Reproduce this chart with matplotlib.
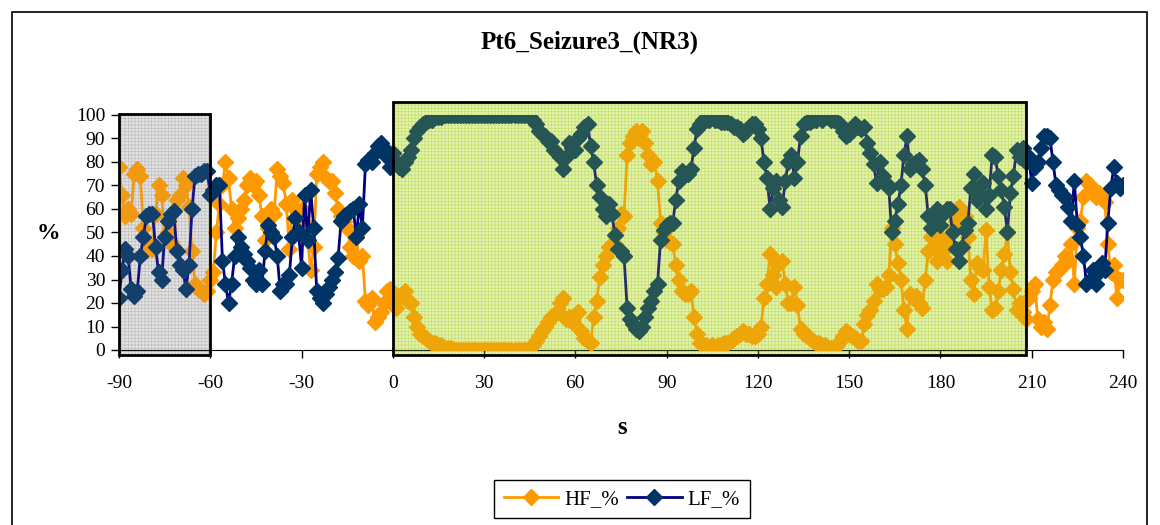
import numpy as np
import matplotlib
matplotlib.use("Agg")
import matplotlib.pyplot as plt
from matplotlib.patches import Rectangle
from matplotlib.colors import to_rgba

plt.rcParams['font.family'] = ['Liberation Serif', 'DejaVu Serif']
plt.rcParams['hatch.linewidth'] = 0.5
plt.rcParams['axes.unicode_minus'] = False

# time axis, one sample per second
t = np.arange(-90, 241)

hf_pct = [
    78, 66, 57, 60, 58, 75, 77, 74, 52, 42,   # -90
    45, 43, 58, 70, 66, 48, 50, 46, 44, 64,   # -80
    66, 73, 70, 61, 42, 28, 26, 25, 24, 25,   # -70
    30, 33, 50, 62, 70, 80, 73, 60, 52, 56,   # -60
    60, 64, 70, 73, 70, 72, 66, 57, 47, 52,   # -50
    60, 58, 77, 74, 71, 62, 43, 64, 60, 52,   # -40
    60, 54, 47, 34, 44, 75, 78, 80, 73, 72,   # -30
    72, 67, 60, 57, 55, 52, 44, 40, 48, 38,   # -20
    40, 21, 19, 22, 12, 14, 16, 20, 25, 26,   # -10
    20, 18, 22, 24, 25, 21, 20, 14, 10, 7,    # 0
    6, 5, 4, 3, 3, 2, 2, 1, 1, 1,             # 10
    0, 0, 0, 0, 0, 0, 0, 0, 0, 0,             # 20
    0, 0, 0, 0, 0, 0, 0, 0, 0, 0,             # 30
    0, 0, 0, 0, 0, 1, 2, 4, 6, 8,             # 40
    10, 12, 14, 15, 16, 20, 22, 13, 14, 12,   # 50
    15, 16, 8, 5, 4, 3, 14, 21, 31, 36,       # 60
    40, 44, 45, 45, 52, 58, 57, 83, 88, 91,   # 70
    93, 90, 93, 88, 83, 79, 80, 72, 54, 50,   # 80
    47, 46, 45, 36, 30, 25, 24, 24, 25, 14,   # 90
    7, 3, 2, 2, 1, 2, 1, 2, 2, 3,             # 100
    3, 4, 5, 6, 7, 8, 7, 7, 6, 6,             # 110
    7, 10, 22, 28, 41, 32, 27, 37, 38, 28,    # 120
    20, 20, 27, 19, 9, 7, 6, 5, 4, 3,         # 130
    3, 2, 2, 1, 1, 1, 2, 4, 6, 8,             # 140
    7, 6, 5, 4, 4, 11, 15, 17, 21, 28,        # 150
    26, 26, 27, 32, 52, 45, 37, 30, 17, 9,    # 160
    24, 22, 23, 20, 18, 30, 42, 48, 44, 38,   # 170
    48, 42, 38, 45, 52, 55, 61, 58, 57, 48,   # 180
    30, 24, 37, 35, 34, 51, 27, 17, 18, 25,   # 190
    34, 41, 50, 33, 26, 17, 20, 16, 13, 22,   # 200
    25, 28, 13, 10, 12, 9, 19, 30, 33, 34,    # 210
    36, 40, 38, 45, 28, 52, 55, 65, 72, 70,   # 220
    68, 65, 67, 65, 63, 45, 33, 36, 22, 30,   # 230
    30,                                       # 240
]

lf_pct = [
    22, 34, 43, 40, 26, 23, 25, 40, 48, 57,   # -90
    58, 58, 44, 33, 30, 48, 55, 58, 59, 42,   # -80
    36, 34, 26, 36, 60, 74, 75, 75, 76, 76,   # -70
    66, 68, 70, 70, 38, 28, 20, 28, 40, 48,   # -60
    44, 41, 38, 35, 30, 28, 34, 28, 42, 53,   # -50
    50, 48, 40, 25, 28, 28, 32, 48, 56, 50,   # -40
    35, 66, 47, 68, 52, 25, 22, 20, 24, 27,   # -30
    30, 33, 39, 55, 57, 58, 59, 60, 48, 62,   # -20
    52, 79, 81, 80, 84, 87, 88, 86, 82, 78,   # -10
    84, 80, 78, 77, 80, 82, 85, 90, 93, 95,   # 0
    96, 97, 98, 98, 99, 99, 99, 100, 100, 100,  # 10
    100, 100, 100, 100, 100, 100, 100, 100, 100, 100,  # 20
    100, 100, 100, 100, 100, 100, 100, 100, 100, 100,  # 30
    100, 100, 100, 100, 100, 99, 98, 96, 93, 92,  # 40
    91, 89, 89, 85, 84, 82, 77, 82, 88, 86,   # 50
    85, 90, 92, 95, 96, 87, 80, 70, 65, 60,   # 60
    57, 62, 58, 49, 43, 42, 40, 18, 13, 11,   # 70
    9, 8, 10, 14, 18, 21, 25, 28, 47, 51,     # 80
    53, 54, 54, 64, 72, 76, 75, 75, 77, 86,   # 90
    94, 96, 98, 98, 98, 99, 98, 98, 97, 97,   # 100
    97, 96, 95, 95, 94, 92, 93, 95, 96, 96,   # 110
    94, 90, 80, 73, 60, 69, 72, 64, 61, 72,   # 120
    80, 83, 73, 80, 91, 96, 97, 97, 98, 98,   # 130
    99, 98, 99, 99, 98, 98, 97, 96, 93, 91,   # 140
    92, 94, 96, 95, 94, 95, 88, 84, 79, 71,   # 150
    80, 74, 71, 69, 50, 55, 62, 70, 83, 91,   # 160
    77, 79, 80, 81, 77, 70, 57, 52, 56, 60,   # 170
    53, 58, 60, 60, 50, 43, 38, 44, 51, 54,   # 180
    69, 75, 64, 66, 71, 60, 66, 83, 82, 74,   # 190
    68, 61, 50, 67, 74, 85, 82, 86, 80, 82,   # 200
    71, 78, 80, 86, 91, 91, 90, 80, 70, 68,   # 210
    66, 65, 61, 55, 72, 53, 48, 40, 28, 30,   # 220
    34, 28, 33, 37, 34, 54, 69, 78, 71, 69,   # 230
    70,                                       # 240
]

# shaded windows in seconds
pre_window = (-90, -60)
seizure_window = (0, 208)

x_ticks = list(range(-90, 241, 30))
y_ticks = list(range(0, 101, 10))

W, H = 1160, 525
fig = plt.figure(figsize=(W / 100, H / 100), dpi=100)
ax = fig.add_axes([119 / W, 1 - 350 / H, (1123 - 119) / W, (350 - 115) / H])

ax.plot(t, hf_pct, color='#FF9900', lw=2, marker='D', ms=8,
        mfc='#FF9900', mec='#FF9900', label='HF_%', zorder=3)
ax.plot(t, lf_pct, color='#000080', lw=2, marker='D', ms=8,
        mfc='#003366', mec='#003366', label='LF_%', zorder=3)

# pre-ictal window (grey) and seizure window (green):
# gridded background under the traces, light tint over them, black frame
boxes = [
    (pre_window, 100.4, '#eeeeee', '#c4c4c4', to_rgba('#9a9a9a', 0.12)),
    (seizure_window, 105.5, '#f4fbd8', '#c9e580', to_rgba('#b0d020', 0.22)),
]
for (x0, x1), top, bg, grid_col, tint in boxes:
    ax.add_patch(Rectangle((x0, -2), x1 - x0, top + 2, facecolor=bg,
                           edgecolor=grid_col, hatch='+++++', lw=0,
                           zorder=1, clip_on=False))
    ax.add_patch(Rectangle((x0, -2), x1 - x0, top + 2, facecolor=tint,
                           lw=0, zorder=4, clip_on=False))
    ax.add_patch(Rectangle((x0, -2), x1 - x0, top + 2, fill=False,
                           edgecolor='black', lw=2, zorder=5, clip_on=False))

ax.set_xlim(-90, 240)
ax.set_ylim(0, 100)
ax.set_xticks(x_ticks)
ax.set_yticks(y_ticks)
ax.tick_params(axis='both', direction='out', length=6, width=1,
               labelsize=14, colors='black')
ax.tick_params(axis='x', pad=12)
ax.tick_params(axis='y', pad=4)
ax.spines['top'].set_visible(False)
ax.spines['right'].set_visible(False)
ax.set_facecolor('none')

fig.text(590 / W, 1 - 42 / H, 'Pt6_Seizure3_(NR3)', ha='center', va='center',
         fontsize=18, fontweight='bold')
fig.text(48 / W, 1 - 233 / H, '%', ha='center', va='center',
         fontsize=17, fontweight='bold')
fig.text(622 / W, 1 - 428 / H, 's', ha='center', va='center',
         fontsize=18, fontweight='bold')

leg = fig.legend(loc='center', bbox_to_anchor=(622 / W, 1 - 499 / H), ncol=2,
                 frameon=True, fancybox=False, edgecolor='black', framealpha=1,
                 fontsize=15, handlelength=2.6, columnspacing=0.4,
                 handletextpad=0.3, borderpad=0.45)
leg.get_frame().set_linewidth(1)

# outer chart border
fig.patches.append(Rectangle((12 / W, -0.01), (1147 - 12) / W, 1.01 - 12 / H,
                             transform=fig.transFigure, fill=False,
                             edgecolor='black', lw=1.2))

fig.savefig('out.png', dpi=100)
